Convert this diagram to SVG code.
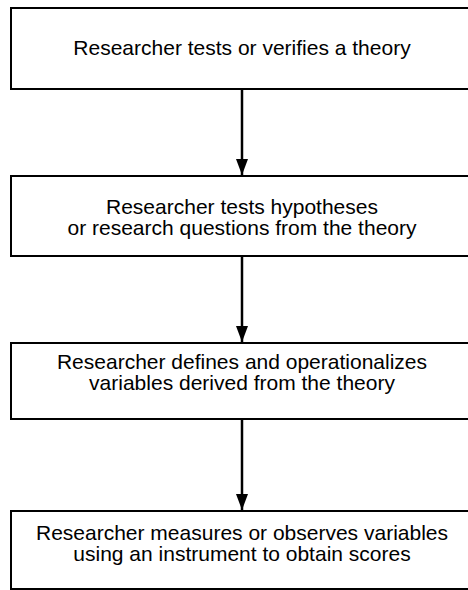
<svg xmlns="http://www.w3.org/2000/svg" width="468" height="590" viewBox="0 0 468 590">
  <defs>
    <marker id="ah" viewBox="0 0 16 12" refX="16" refY="6" markerWidth="16" markerHeight="12" markerUnits="userSpaceOnUse" orient="auto">
      <path d="M0,0 L16,6 L0,12 Z" fill="#000"/>
    </marker>
    <style>
      .box { fill: #fff; stroke: #000; stroke-width: 2; }
      .lbl { font-family: "Liberation Sans", Arial, sans-serif; font-size: 21px; fill: #000; text-anchor: middle; }
      .conn { stroke: #000; stroke-width: 2.5; fill: none; }
    </style>
  </defs>
  <rect width="468" height="590" fill="#fff"/>
  <g id="connectors">
    <line class="conn" x1="242" y1="89" x2="242" y2="175" marker-end="url(#ah)"/>
    <line class="conn" x1="242" y1="256" x2="242" y2="342" marker-end="url(#ah)"/>
    <line class="conn" x1="242" y1="419" x2="242" y2="510" marker-end="url(#ah)"/>
  </g>
  <g id="node1">
    <rect class="box" x="11" y="8" width="470" height="81"/>
    <text class="lbl" x="242" y="55">Researcher tests or verifies a theory</text>
  </g>
  <g id="node2">
    <rect class="box" x="11" y="176" width="470" height="80"/>
    <text class="lbl" x="242" y="214">Researcher tests hypotheses</text>
    <text class="lbl" x="242" y="235">or research questions from the theory</text>
  </g>
  <g id="node3">
    <rect class="box" x="11" y="343" width="470" height="76"/>
    <text class="lbl" x="242" y="369">Researcher defines and operationalizes</text>
    <text class="lbl" x="242" y="390">variables derived from the theory</text>
  </g>
  <g id="node4">
    <rect class="box" x="11" y="511" width="470" height="78"/>
    <text class="lbl" x="242" y="540">Researcher measures or observes variables</text>
    <text class="lbl" x="242" y="561">using an instrument to obtain scores</text>
  </g>
</svg>
